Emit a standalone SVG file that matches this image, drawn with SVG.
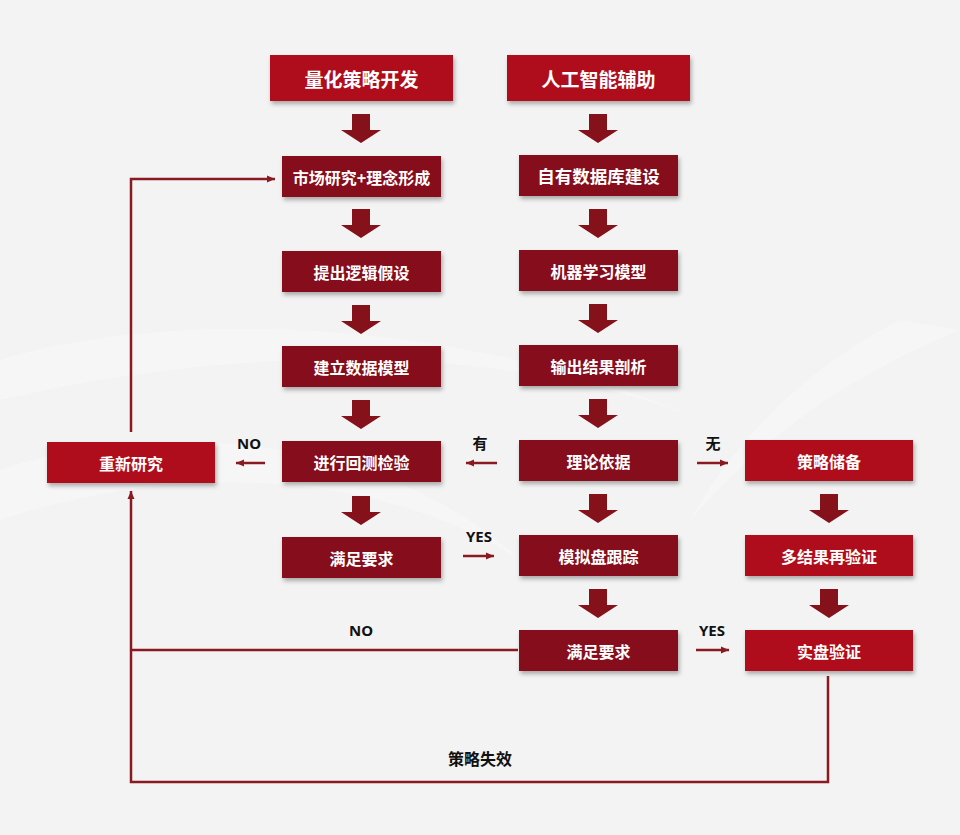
<svg xmlns="http://www.w3.org/2000/svg" width="960" height="835" viewBox="0 0 960 835">
<defs>
<style>
.bg{fill:#f3f3f3}
.dark{fill:#85111b;filter:url(#sh)}
.bright{fill:#b0101f;filter:url(#sh)}
.t{font-family:"Noto Sans CJK SC","Noto Sans",sans-serif;font-weight:700;fill:#fff;text-anchor:middle;dominant-baseline:central}
.big{fill:#85111b}
.ln{fill:none;stroke:#8a1a22;stroke-width:2.5}
.lbl{font-family:"Noto Sans","Noto Sans CJK SC",sans-serif;font-weight:700;fill:#111;text-anchor:middle;font-size:15px}
</style>
<filter id="sh" x="-10%" y="-20%" width="125%" height="160%">
<feDropShadow dx="1.5" dy="3" stdDeviation="2" flood-color="#000" flood-opacity="0.3"/>
</filter>
<marker id="ah" markerUnits="userSpaceOnUse" markerWidth="10" markerHeight="10" refX="8" refY="5" orient="auto">
<path d="M0,1.5 L8,5 L0,8.5 Z" fill="#8a1a22"/>
</marker>
</defs>
<rect class="bg" x="0" y="0" width="960" height="835"/>
<path d="M0,360 C200,300 500,330 700,420 C560,360 300,330 0,400 Z" fill="#fff" opacity="0.3"/>
<path d="M0,470 C150,420 380,430 520,560 C380,470 180,460 0,520 Z" fill="#fff" opacity="0.3"/>
<path d="M900,320 C820,360 740,430 690,520 C760,440 840,380 960,330 Z" fill="#fff" opacity="0.3"/>

<g id="connectors">
<path class="ln" d="M265,463 H236" marker-end="url(#ah)"/>
<path class="ln" d="M497,463 H466" marker-end="url(#ah)"/>
<path class="ln" d="M697,463 H728" marker-end="url(#ah)"/>
<path class="ln" d="M463,556 H494" marker-end="url(#ah)"/>
<path class="ln" d="M696,650 H729" marker-end="url(#ah)"/>
<path class="ln" d="M518,650 H131"/>
<path class="ln" d="M828,676 V782 H131 V491" marker-end="url(#ah)"/>
<path class="ln" d="M131,432 V179 H275" marker-end="url(#ah)"/>
<path class="big" d="M352,114 h18 v16 h11 l-20,13 l-20,-13 h11 z"/>
<path class="big" d="M352,209 h18 v16 h11 l-20,13 l-20,-13 h11 z"/>
<path class="big" d="M352,305 h18 v16 h11 l-20,13 l-20,-13 h11 z"/>
<path class="big" d="M352,400 h18 v16 h11 l-20,13 l-20,-13 h11 z"/>
<path class="big" d="M352,496 h18 v16 h11 l-20,13 l-20,-13 h11 z"/>
<path class="big" d="M589,114 h18 v16 h11 l-20,13 l-20,-13 h11 z"/>
<path class="big" d="M589,209 h18 v16 h11 l-20,13 l-20,-13 h11 z"/>
<path class="big" d="M589,304 h18 v16 h11 l-20,13 l-20,-13 h11 z"/>
<path class="big" d="M589,399 h18 v16 h11 l-20,13 l-20,-13 h11 z"/>
<path class="big" d="M589,494 h18 v16 h11 l-20,13 l-20,-13 h11 z"/>
<path class="big" d="M589,589 h18 v16 h11 l-20,13 l-20,-13 h11 z"/>
<path class="big" d="M820,494 h18 v16 h11 l-20,13 l-20,-13 h11 z"/>
<path class="big" d="M820,589 h18 v16 h11 l-20,13 l-20,-13 h11 z"/>
<text class="lbl" x="249" y="449">NO</text>
<text class="lbl" x="480" y="449">有</text>
<text class="lbl" x="713" y="449">无</text>
<text class="lbl" x="479" y="542">YES</text>
<text class="lbl" x="712" y="636">YES</text>
<text class="lbl" x="361" y="636">NO</text>
<text class="lbl" x="480" y="765" style="font-size:16px">策略失效</text>
</g>

<g id="n-quant"><rect class="bright" x="270" y="55" width="183" height="46"/><text class="t" x="361.5" y="78" font-size="19">量化策略开发</text></g>
<g id="n-ai"><rect class="bright" x="507" y="55" width="183" height="46"/><text class="t" x="598.5" y="78" font-size="19">人工智能辅助</text></g>

<g id="n-market"><rect class="dark" x="282" y="156" width="159" height="41"/><text class="t" x="361.5" y="176.5" font-size="16">市场研究+理念形成</text></g>
<g id="n-hypo"><rect class="dark" x="282" y="251" width="159" height="41"/><text class="t" x="361.5" y="271.5" font-size="16">提出逻辑假设</text></g>
<g id="n-model"><rect class="dark" x="282" y="346" width="159" height="41"/><text class="t" x="361.5" y="366.5" font-size="16">建立数据模型</text></g>
<g id="n-backtest"><rect class="dark" x="282" y="441" width="159" height="41"/><text class="t" x="361.5" y="461.5" font-size="16">进行回测检验</text></g>
<g id="n-req1"><rect class="dark" x="282" y="537" width="159" height="41"/><text class="t" x="361.5" y="557.5" font-size="16">满足要求</text></g>

<g id="n-db"><rect class="dark" x="519" y="155" width="159" height="41"/><text class="t" x="598.5" y="175.5" font-size="17.5">自有数据库建设</text></g>
<g id="n-ml"><rect class="dark" x="519" y="250" width="159" height="41"/><text class="t" x="598.5" y="270.5" font-size="16">机器学习模型</text></g>
<g id="n-output"><rect class="dark" x="519" y="345" width="159" height="41"/><text class="t" x="598.5" y="365.5" font-size="16">输出结果剖析</text></g>
<g id="n-theory"><rect class="dark" x="519" y="440" width="159" height="41"/><text class="t" x="598.5" y="460.5" font-size="16">理论依据</text></g>
<g id="n-sim"><rect class="dark" x="519" y="535" width="159" height="41"/><text class="t" x="598.5" y="555.5" font-size="16">模拟盘跟踪</text></g>
<g id="n-req2"><rect class="dark" x="519" y="630" width="159" height="41"/><text class="t" x="598.5" y="650.5" font-size="16">满足要求</text></g>

<g id="n-reserve"><rect class="bright" x="745" y="440" width="168" height="41"/><text class="t" x="829" y="460.5" font-size="16">策略储备</text></g>
<g id="n-multi"><rect class="bright" x="745" y="535" width="168" height="41"/><text class="t" x="829" y="555.5" font-size="16">多结果再验证</text></g>
<g id="n-live"><rect class="bright" x="745" y="630" width="168" height="41"/><text class="t" x="829" y="650.5" font-size="16">实盘验证</text></g>

<g id="n-research"><rect class="bright" x="47" y="442" width="168" height="41"/><text class="t" x="131" y="462.5" font-size="16">重新研究</text></g>
</svg>
